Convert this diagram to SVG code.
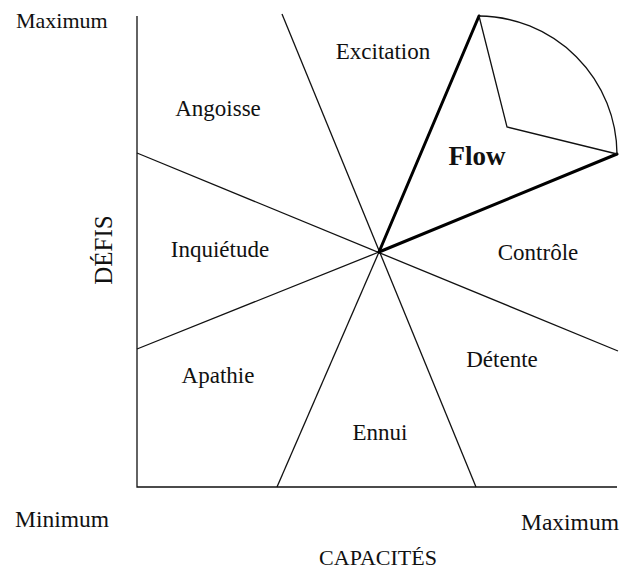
<svg xmlns="http://www.w3.org/2000/svg" width="620" height="572" viewBox="0 0 620 572">
<style>
.t{font-family:"Liberation Serif","Times New Roman",serif;font-size:22px;fill:#111}
.r{font-size:23px}
.m{text-anchor:middle}
.ln{stroke:#111;stroke-width:1.3;fill:none}
.bd{stroke:#000;stroke-width:3;fill:none;stroke-linecap:round}
</style>
<rect width="620" height="572" fill="#fff"/>
<g id="axes">
<path class="ln" d="M137 16 V487 H617"/>
</g>
<g id="connectors">
<line class="ln" x1="282" y1="14" x2="476" y2="487"/>
<line class="ln" x1="137" y1="153" x2="618" y2="351"/>
<line class="ln" x1="137" y1="349" x2="379" y2="252"/>
<line class="ln" x1="277" y1="487" x2="379" y2="252"/>
<line class="bd" x1="379" y1="252" x2="479" y2="16"/>
<line class="bd" x1="379" y1="252" x2="617" y2="154"/>
<path class="ln" d="M479 16 L507 127 L617 154"/>
<path class="ln" d="M479 16 A139 139 0 0 1 617 154"/>
</g>
<g id="excitation"><text class="t r m" x="383" y="59">Excitation</text></g>
<g id="angoisse"><text class="t r m" x="218" y="116">Angoisse</text></g>
<g id="flow"><text class="t m" x="477" y="165" style="font-weight:bold;font-size:27px">Flow</text></g>
<g id="inquietude"><text class="t r m" x="220" y="257">Inquiétude</text></g>
<g id="controle"><text class="t r m" x="538" y="260">Contrôle</text></g>
<g id="apathie"><text class="t r m" x="218" y="383">Apathie</text></g>
<g id="detente"><text class="t r m" x="502" y="367">Détente</text></g>
<g id="ennui"><text class="t r m" x="380" y="440">Ennui</text></g>
<g id="labels">
<text class="t" x="16" y="28">Maximum</text>
<text class="t" x="15" y="527" style="font-size:23.5px">Minimum</text>
<text class="t" x="521" y="530" style="font-size:23.5px">Maximum</text>
<text class="t m" x="378" y="565">CAPACITÉS</text>
<text class="t m" transform="translate(112 250) rotate(-90)" style="font-size:25px">DÉFIS</text>
</g>
</svg>
